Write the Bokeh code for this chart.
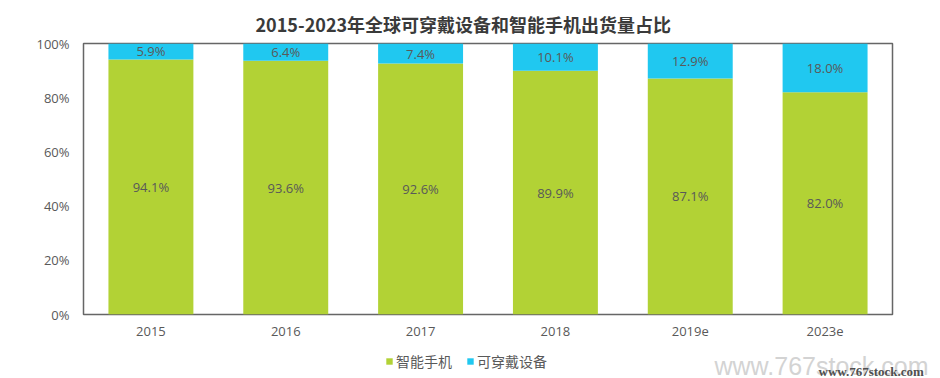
from bokeh.plotting import figure
from bokeh.layouts import column
from bokeh.models import ColumnDataSource, Legend, LegendItem, FixedTicker, Range1d
from bokeh.core.properties import value
from bokeh.embed import file_html
from bokeh.resources import INLINE

years = ["2015", "2016", "2017", "2018", "2019e", "2023e"]
smartphone = [94.1, 93.6, 92.6, 89.9, 87.1, 82.0]
wearable = [5.9, 6.4, 7.4, 10.1, 12.9, 18.0]
y_ticks = [0, 20, 40, 60, 80, 100]
series_names = ["智能手机", "可穿戴设备"]
watermark = "www.767stock.com"

GREEN = "#B2D235"
CYAN = "#20C8F0"
TXT = "#595959"
FONT = "Open Sans"

src = ColumnDataSource(dict(
    x=years,
    s_top=smartphone,
    w_bot=smartphone,
    w_top=[a + b for a, b in zip(smartphone, wearable)],
    s_mid=[a / 2 for a in smartphone],
    w_mid=[a + b / 2 for a, b in zip(smartphone, wearable)],
    s_lab=[f"{v:.1f}%" for v in smartphone],
    w_lab=[f"{v:.1f}%" for v in wearable],
))

p = figure(width=940, height=345, x_range=years, y_range=Range1d(0, 100),
           output_backend="svg", toolbar_location=None,
           min_border_left=83, min_border_right=48, min_border_top=43, min_border_bottom=31)

p.vbar(x="x", bottom=0, top="s_top", width=0.63, color=GREEN, line_color=None, source=src)
p.vbar(x="x", bottom="w_bot", top="w_top", width=0.63, color=CYAN, line_color=None, source=src)

p.text(x="x", y="s_mid", text="s_lab", source=src, text_align="center", text_baseline="middle",
       text_font=value(FONT), text_font_size="13px", text_color=TXT)
p.text(x="x", y="w_mid", text="w_lab", source=src, text_align="center", text_baseline="middle",
       text_font=value(FONT), text_font_size="13px", text_color=TXT)

p.title.text = "2015-2023年全球可穿戴设备和智能手机出货量占比"
p.title.align = "left"
p.title.offset = 172
p.title.text_font = "Noto Sans CJK SC"
p.title.text_font_size = "18px"
p.title.text_font_style = "bold"
p.title.text_color = "#3A3A3A"
try:
    p.title.standoff = 14
except Exception:
    pass

p.xgrid.visible = False
p.ygrid.visible = False
p.outline_line_color = "#666666"
p.outline_line_width = 1.5

p.yaxis.ticker = FixedTicker(ticks=y_ticks)
p.yaxis.major_label_overrides = {t: f"{t}%" for t in y_ticks}
p.yaxis.axis_line_color = None
p.yaxis.major_tick_line_color = None
p.yaxis.minor_tick_line_color = None
p.yaxis.major_label_text_font = FONT
p.yaxis.major_label_text_font_size = "13px"
p.yaxis.major_label_text_color = TXT
p.yaxis.major_label_standoff = 8

p.xaxis.axis_line_color = None
p.xaxis.major_tick_line_color = None
p.xaxis.minor_tick_line_color = None
p.xaxis.major_label_text_font = FONT
p.xaxis.major_label_text_font_size = "13px"
p.xaxis.major_label_text_color = TXT
p.xaxis.major_label_standoff = 6

# legend / watermark strip below the chart
lf = figure(width=940, height=33, x_range=Range1d(0, 940), y_range=Range1d(0, 33),
            output_backend="svg", toolbar_location=None, x_axis_type=None, y_axis_type=None,
            min_border=0, outline_line_color=None)
lf.xgrid.visible = False
lf.ygrid.visible = False
# off-screen proxy glyphs that only supply the legend swatches
g1 = lf.quad(left=[-100], right=[-99], bottom=[-100], top=[-99], color=GREEN, line_color=None)
g2 = lf.quad(left=[-100], right=[-99], bottom=[-100], top=[-99], color=CYAN, line_color=None)

legend = Legend(items=[LegendItem(label=series_names[0], renderers=[g1]),
                       LegendItem(label=series_names[1], renderers=[g2])],
                orientation="horizontal", location=(385, 7),
                label_text_font="Noto Sans CJK SC", label_text_font_size="14px",
                label_text_color=TXT, glyph_width=8, glyph_height=8,
                label_standoff=3, spacing=14, border_line_color=None,
                padding=0, margin=0, background_fill_alpha=0,
                label_height=17)
lf.add_layout(legend)

lf.text(x=[714], y=[13], text=[watermark], text_font=value("Liberation Sans"),
        text_font_size="25px", text_color="#D3D3D3", text_baseline="alphabetic")
lf.text(x=[818], y=[7], text=[watermark], text_font=value("Liberation Serif"),
        text_font_size="13px", text_font_style="bold", text_color="#505050",
        text_baseline="alphabetic")

layout = column(p, column(lf, spacing=0), spacing=0)
open("out.html", "w").write(file_html(layout, INLINE))
